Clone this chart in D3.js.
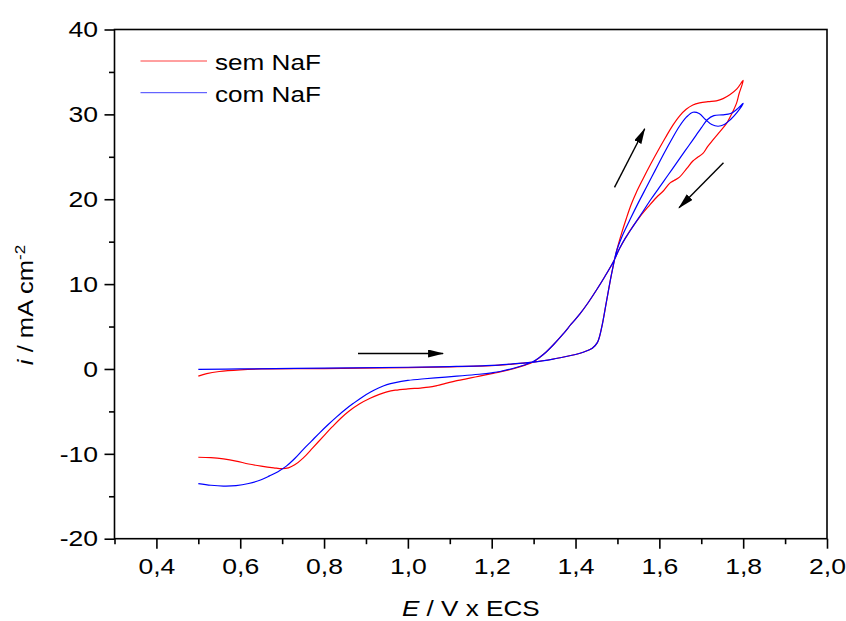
<!DOCTYPE html>
<html>
<head>
<meta charset="utf-8">
<script src="https://cdn.jsdelivr.net/npm/d3@7"></script>
<style>
  html, body { margin: 0; padding: 0; background: #fff; }
  svg { display: block; font-family: Arial, "Liberation Sans", sans-serif; }
</style>
</head>
<body>
<svg id="chart" width="846" height="621"></svg>
<script>
// Cyclic voltammograms: potential E (V vs ECS) and current density i (mA cm-2)

// without NaF — anodic (forward) sweep 0.5 -> 1.8 V
const semForward = [
  [0.50, -0.85], [0.52, -0.55], [0.55, -0.30], [0.60, -0.10], [0.65, 0.00],
  [0.80, 0.05], [1.00, 0.15], [1.10, 0.25], [1.20, 0.40], [1.25, 0.58],
  [1.30, 0.80], [1.35, 1.20], [1.40, 1.70], [1.42, 2.00], [1.44, 2.45],
  [1.452, 3.10], [1.462, 4.80], [1.474, 8.00], [1.486, 11.2], [1.498, 13.9],
  [1.51, 16.0], [1.521, 17.7], [1.533, 19.4], [1.545, 20.8], [1.56, 22.3],
  [1.58, 24.2], [1.60, 26.0], [1.615, 27.3], [1.632, 28.7], [1.648, 29.8],
  [1.664, 30.6], [1.68, 31.1], [1.696, 31.35], [1.716, 31.5], [1.736, 31.6],
  [1.752, 31.85], [1.768, 32.3], [1.785, 33.0], [1.80, 34.0]
];
// without NaF — cathodic (reverse) sweep 1.8 -> 0.5 V
const semReverse = [
  [1.80, 34.0], [1.79, 32.4], [1.784, 31.3], [1.77, 29.8], [1.76, 28.9],
  [1.745, 28.0], [1.728, 27.0], [1.715, 26.2], [1.704, 25.4], [1.69, 24.9],
  [1.68, 24.5], [1.665, 23.6], [1.648, 22.6], [1.635, 22.2], [1.625, 21.9],
  [1.61, 21.0], [1.593, 20.2], [1.575, 19.2], [1.553, 17.9], [1.53, 16.3],
  [1.505, 14.2], [1.49, 12.6], [1.47, 10.9], [1.45, 9.3], [1.43, 7.8],
  [1.41, 6.45], [1.39, 5.3], [1.37, 4.1], [1.35, 3.0], [1.33, 2.0],
  [1.314, 1.35], [1.30, 0.85], [1.28, 0.45], [1.25, 0.0], [1.22, -0.35],
  [1.20, -0.55], [1.171, -0.85], [1.15, -1.05], [1.12, -1.35], [1.09, -1.7],
  [1.07, -1.95], [1.05, -2.15], [1.03, -2.25], [1.00, -2.35], [0.97, -2.5],
  [0.95, -2.7], [0.932, -3.0], [0.91, -3.45], [0.885, -4.1], [0.86, -4.95],
  [0.84, -5.8], [0.82, -6.8], [0.80, -7.85], [0.773, -9.3], [0.75, -10.5],
  [0.73, -11.3], [0.715, -11.65], [0.70, -11.75], [0.68, -11.65], [0.65, -11.45],
  [0.62, -11.2], [0.59, -10.85], [0.56, -10.6], [0.53, -10.45], [0.50, -10.4]
];

// with NaF — anodic (forward) sweep
const comForward = [
  [0.50, -0.05], [0.60, 0.00], [0.80, 0.10], [1.00, 0.20], [1.10, 0.28],
  [1.20, 0.42], [1.25, 0.60], [1.30, 0.80], [1.35, 1.20], [1.40, 1.70],
  [1.42, 2.00], [1.44, 2.45], [1.452, 3.10], [1.462, 4.80], [1.474, 8.00],
  [1.486, 11.2], [1.498, 13.9], [1.51, 15.5], [1.53, 17.6], [1.55, 19.6],
  [1.57, 21.5], [1.59, 23.4], [1.61, 25.3], [1.63, 27.1], [1.648, 28.6],
  [1.665, 29.7], [1.68, 30.25], [1.695, 30.1], [1.71, 29.4], [1.725, 28.8],
  [1.74, 28.6], [1.755, 28.8], [1.77, 29.4], [1.785, 30.2], [1.80, 31.3]
];
// with NaF — cathodic (reverse) sweep
const comReverse = [
  [1.80, 31.3], [1.785, 30.6], [1.77, 30.1], [1.75, 29.95], [1.73, 29.85],
  [1.715, 29.4], [1.70, 28.4], [1.68, 27.0], [1.66, 25.6], [1.64, 24.2],
  [1.62, 22.8], [1.60, 21.4], [1.58, 20.0], [1.56, 18.5], [1.54, 17.0],
  [1.52, 15.5], [1.505, 14.2], [1.49, 12.6], [1.47, 10.9], [1.45, 9.3],
  [1.43, 7.8], [1.41, 6.45], [1.39, 5.3], [1.37, 4.1], [1.35, 3.0],
  [1.33, 2.0], [1.314, 1.35], [1.30, 0.9], [1.28, 0.5], [1.25, 0.05],
  [1.22, -0.3], [1.20, -0.45], [1.17, -0.62], [1.13, -0.8], [1.09, -0.95],
  [1.04, -1.15], [1.00, -1.35], [0.97, -1.6], [0.95, -1.85], [0.93, -2.25],
  [0.91, -2.75], [0.89, -3.35], [0.87, -4.05], [0.85, -4.8], [0.83, -5.65],
  [0.81, -6.55], [0.79, -7.5], [0.77, -8.5], [0.75, -9.5], [0.73, -10.55],
  [0.71, -11.45], [0.69, -12.1], [0.67, -12.6], [0.65, -13.05], [0.62, -13.5],
  [0.59, -13.75], [0.56, -13.8], [0.53, -13.7], [0.50, -13.5]
];

const seriesNames = ["sem NaF", "com NaF"];
const seriesColors = ["#ff0000", "#0000ff"];

// sweep-direction arrows: [E start, i start, E end, i end]
const arrows = [
  [0.881, 1.82, 1.084, 1.82],
  [1.493, 21.4, 1.565, 28.3],
  [1.753, 24.3, 1.647, 19.0]
];

const xMajorTicks = [0.4, 0.6, 0.8, 1.0, 1.2, 1.4, 1.6, 1.8, 2.0];
const xMinorTicks = [0.3, 0.5, 0.7, 0.9, 1.1, 1.3, 1.5, 1.7, 1.9];
const yMajorTicks = [-20, -10, 0, 10, 20, 30, 40];
const yMinorTicks = [-15, -5, 5, 15, 25, 35];

const svg = d3.select("#chart");
const plotLeft = 114.5, plotRight = 827, plotTop = 29.5, plotBottom = 538.7;
const fontPx = 22.5;      // label font size
const widen = 1.16;       // horizontal glyph stretch of the label font
const tickWiden = 1.18;

const x = d3.scaleLinear().domain([0.3, 2.0]).range([plotLeft, plotRight]);
const y = d3.scaleLinear().domain([-20, 40]).range([plotBottom, plotTop]);

const fmt = v => d3.format(".1f")(v).replace(".", ",");

// axes
const axisG = svg.append("g");
function styleAxis(g) {
  g.select(".domain").remove();
  g.selectAll("line").attr("stroke", "#000").attr("stroke-width", 1.6);
  g.selectAll("text").attr("fill", "#000").style("font-size", fontPx + "px")
    .style("font-family", "Arial, 'Liberation Sans', sans-serif")
    .attr("transform", `scale(${tickWiden},1)`);
}
axisG.append("g").attr("transform", `translate(0,${plotBottom})`)
  .call(d3.axisBottom(x).tickValues(xMajorTicks).tickSize(10).tickPadding(9.5).tickFormat(fmt))
  .call(styleAxis);
axisG.append("g").attr("transform", `translate(0,${plotBottom})`)
  .call(d3.axisBottom(x).tickValues(xMinorTicks).tickSize(5.5).tickFormat(""))
  .call(styleAxis);
axisG.append("g").attr("transform", `translate(${plotLeft},0)`)
  .call(d3.axisLeft(y).tickValues(yMajorTicks).tickSize(10).tickPadding(6.5).tickFormat(d => String(d)))
  .call(styleAxis)
  .call(g => g.selectAll("text").attr("x", -16.5 / tickWiden));
axisG.append("g").attr("transform", `translate(${plotLeft},0)`)
  .call(d3.axisLeft(y).tickValues(yMinorTicks).tickSize(5.5).tickFormat(""))
  .call(styleAxis);

// curves
const line = d3.line()
  .x(d => x(d[0]))
  .y(d => y(d[1]))
  .curve(d3.curveCatmullRom.alpha(0.5));

const curves = [
  semForward.concat(semReverse.slice(1)),
  comForward.concat(comReverse.slice(1))
];
const plot = svg.append("g");
curves.forEach((pts, k) => {
  plot.append("path")
    .datum(pts)
    .attr("d", line)
    .attr("fill", "none")
    .attr("stroke", seriesColors[k])
    .attr("stroke-width", 1.2)
    .attr("stroke-linejoin", "round");
});

// arrows
svg.append("defs").append("marker")
  .attr("id", "head")
  .attr("markerUnits", "userSpaceOnUse")
  .attr("viewBox", "0 0 16 8")
  .attr("refX", 15).attr("refY", 4)
  .attr("markerWidth", 16).attr("markerHeight", 8)
  .attr("orient", "auto")
  .append("path")
  .attr("d", "M0,0 L16,4 L0,8 Z")
  .attr("fill", "#000");

svg.append("g").selectAll("line")
  .data(arrows)
  .join("line")
  .attr("x1", d => x(d[0])).attr("y1", d => y(d[1]))
  .attr("x2", d => x(d[2])).attr("y2", d => y(d[3]))
  .attr("stroke", "#000")
  .attr("stroke-width", 1.4)
  .attr("marker-end", "url(#head)");

// frame
svg.append("rect")
  .attr("x", plotLeft).attr("y", plotTop)
  .attr("width", plotRight - plotLeft).attr("height", plotBottom - plotTop)
  .attr("fill", "none").attr("stroke", "#000").attr("stroke-width", 1.6);

// legend
const legend = svg.append("g");
seriesNames.forEach((name, k) => {
  const ly = 61 + k * 31.7;
  legend.append("line")
    .attr("x1", 140.5).attr("x2", 207)
    .attr("y1", ly).attr("y2", ly)
    .attr("stroke", seriesColors[k]).attr("stroke-width", 1)
    .attr("stroke-opacity", 0.75);
  legend.append("text")
    .attr("transform", `translate(215,${ly + 9}) scale(${widen},1)`)
    .style("font-size", fontPx + "px")
    .attr("fill", "#000")
    .text(name);
});

// axis titles
const xt = svg.append("text")
  .attr("transform", `translate(${(plotLeft + plotRight) / 2},615.5) scale(${widen},1)`)
  .attr("text-anchor", "middle")
  .style("font-size", fontPx + "px");
xt.append("tspan").style("font-style", "italic").text("E");
xt.append("tspan").text(" / V x ECS");

const yt = svg.append("text")
  .attr("transform", `translate(33,305) rotate(-90) scale(${widen * 0.98},1)`)
  .attr("text-anchor", "middle")
  .style("font-size", fontPx + "px");
yt.append("tspan").style("font-style", "italic").text("i");
yt.append("tspan").text(" / mA cm");
yt.append("tspan").attr("dy", -8).style("font-size", "15px").text("-2");
</script>
</body>
</html>
